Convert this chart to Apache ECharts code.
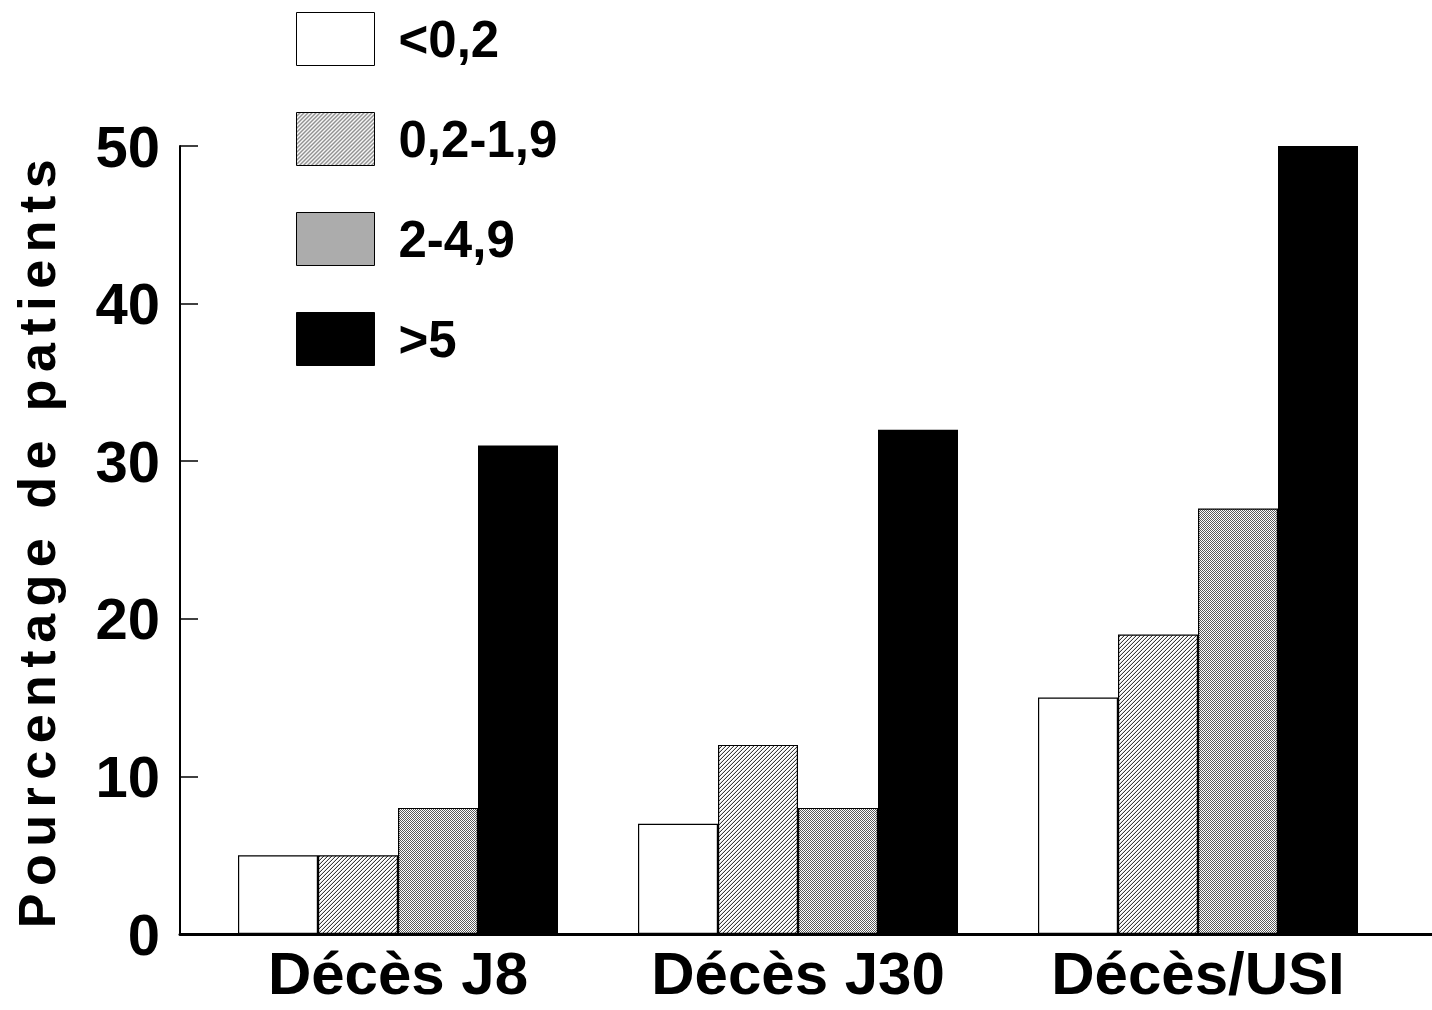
<!DOCTYPE html>
<html><head><meta charset="utf-8">
<script src="https://cdn.jsdelivr.net/npm/echarts@6/dist/echarts.min.js"></script>
<style>html,body{margin:0;padding:0;background:#fff}#c{width:1432px;height:1010px}</style>
</head><body><div id="c"></div>
<script>
const categories = ['Décès J8', 'Décès J30', 'Décès/USI'];
const seriesNames = ['<0,2', '0,2-1,9', '2-4,9', '>5'];
const valsLt02 = [5, 7, 15];
const vals02to19 = [5, 12, 19];
const vals2to49 = [8, 8, 27];
const valsGt5 = [31, 32, 50];
const yMin = 0, yMax = 50, yStep = 10;
const yTitle = 'Pourcentage de patients';

const FONT = '"Liberation Sans", Arial, Helvetica, sans-serif';

function makePattern(kind) {
  const c = document.createElement('canvas');
  c.width = 8; c.height = 8;
  const ctx = c.getContext('2d');
  ctx.fillStyle = '#fff'; ctx.fillRect(0, 0, 8, 8);
  for (let y = 0; y < 8; y++) for (let x = 0; x < 8; x++) {
    let col = null;
    if (kind === 'hatch') {
      const k = (x + y) % 4;
      if (k === 3) col = '#3a3a3a'; else if (k === 2) col = '#d8d8d8';
    } else {
      if ((x + y) % 2 === 0) col = '#5a5a5a';
    }
    if (col) { ctx.fillStyle = col; ctx.fillRect(x, y, 1, 1); }
  }
  return { image: c, repeat: 'repeat' };
}

const fills = ['#ffffff', makePattern('hatch'), makePattern('dither'), '#000000'];
const dataSets = [valsLt02, vals02to19, vals2to49, valsGt5];

const chart = echarts.init(document.getElementById('c'), null, { renderer: 'svg' });

function applySpacing() {
  document.querySelectorAll('#c text').forEach(t => {
    if (t.textContent === yTitle) t.style.letterSpacing = '7.5px';
  });
}
chart.on('finished', applySpacing);

chart.setOption({
  animation: false,
  backgroundColor: '#fff',
  legend: {
    orient: 'vertical', left: 296, top: 12, padding: 0,
    itemWidth: 78, itemHeight: 53, itemGap: 46,
    icon: 'rect', selectedMode: false,
    data: seriesNames,
    itemStyle: { borderColor: '#000', borderWidth: 1 },
    textStyle: { fontSize: 51, fontWeight: 'bold', color: '#000', fontFamily: FONT, padding: [0, 0, 0, 19] }
  },
  grid: [
    { left: 198, right: 34, top: 146, bottom: 76 },
    { left: 180, right: 0, top: 146, bottom: 76 }
  ],
  xAxis: [
    { type: 'category', gridIndex: 0, data: categories,
      axisLine: { show: false }, axisTick: { show: false },
      axisLabel: { fontSize: 60, fontWeight: 'bold', color: '#000', margin: 9, fontFamily: FONT } },
    { type: 'value', gridIndex: 1, min: 0, max: 1,
      axisLine: { show: true, lineStyle: { color: '#000', width: 3 } },
      axisTick: { show: false }, axisLabel: { show: false }, splitLine: { show: false } }
  ],
  yAxis: [
    { type: 'value', gridIndex: 0, min: yMin, max: yMax, interval: yStep, offset: 18,
      axisLine: { show: true, lineStyle: { color: '#000', width: 2 } },
      axisTick: { show: true, inside: true, length: 18, lineStyle: { color: '#000', width: 1.5 } },
      axisLabel: { fontSize: 58, fontWeight: 'bold', color: '#000', margin: 20, fontFamily: FONT },
      splitLine: { show: false },
      name: yTitle, nameLocation: 'middle', nameGap: 117,
      nameTextStyle: { fontSize: 52, fontWeight: 'bold', color: '#000', fontFamily: FONT } },
    { type: 'value', gridIndex: 1, show: false }
  ],
  series: seriesNames.map((n, i) => ({
    name: n, type: 'bar', xAxisIndex: 0, yAxisIndex: 0,
    data: dataSets[i], barWidth: 80, barGap: '0%',
    itemStyle: { color: fills[i], borderColor: '#000', borderWidth: 1.2 }
  }))
});
setTimeout(applySpacing, 50);
</script>
</body></html>
